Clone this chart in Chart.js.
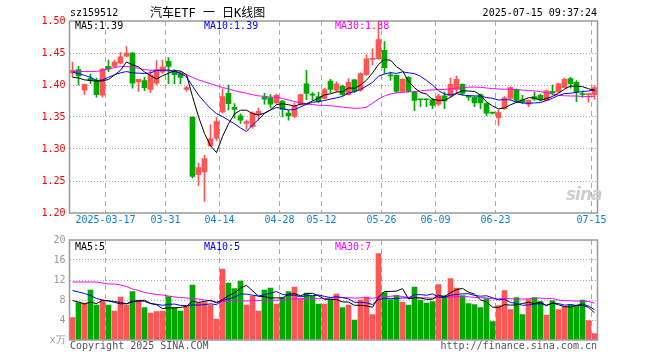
<!DOCTYPE html>
<html>
<head>
<meta charset="utf-8">
<script src="https://cdn.jsdelivr.net/npm/chart.js@4.4.1/dist/chart.umd.min.js"></script>
<style>
body{margin:0;background:#fff;width:660px;height:360px;position:relative;overflow:hidden;font-family:'DejaVu Sans Mono',monospace;}
canvas{position:absolute;left:0}
#k{top:0}
#v{top:230px}
.t{position:absolute;font-size:10px;line-height:12px;white-space:pre;z-index:5}
</style>
</head>
<body>
<div class="t" style="left:70px;top:7px">sz159512</div>
<div class="t" style="left:150px;top:6px;font-size:12px;line-height:14px;font-family:'DejaVu Sans Mono','Noto Sans CJK SC',monospace">汽车ETF 一 日K线图</div>
<div class="t" style="right:63px;top:7px">2025-07-15 09:37:24</div>
<div class="t" style="left:75px;top:20px;color:#000">MA5:1.39</div>
<div class="t" style="left:204px;top:20px;color:#00f">MA10:1.39</div>
<div class="t" style="left:335px;top:20px;color:#f0f">MA30:1.38</div>
<div class="t" style="left:75px;top:241px;color:#000">MA5:5</div>
<div class="t" style="left:204px;top:241px;color:#00f">MA10:5</div>
<div class="t" style="left:335px;top:241px;color:#f0f">MA30:7</div>
<div class="t" style="left:70px;top:340px;color:#555">Copyright 2025 SINA.COM</div>
<div class="t" style="right:63px;top:340px;color:#555">http://finance.sina.com.cn</div>
<div class="t" style="left:566px;top:184px;font:italic bold 17px 'DejaVu Sans',sans-serif;color:#cfcfcf;letter-spacing:-1px">sina</div>
<canvas id="k" width="660" height="232"></canvas>
<canvas id="v" width="660" height="130"></canvas>
<script>
// trading days 2025-03-07 .. 2025-07-15
var dates = ['03-07','03-10','03-11','03-12','03-13','03-14','03-17','03-18','03-19','03-20','03-21','03-24','03-25','03-26','03-27','03-28','03-31',
  '04-01','04-02','04-03','04-07','04-08','04-09','04-10','04-11','04-14','04-15','04-16','04-17','04-18','04-21','04-22','04-23','04-24','04-25','04-28','04-29','04-30',
  '05-06','05-07','05-08','05-09','05-12','05-13','05-14','05-15','05-16','05-19','05-20','05-21','05-22','05-23','05-26','05-27','05-28','05-29','05-30',
  '06-03','06-04','06-05','06-06','06-09','06-10','06-11','06-12','06-13','06-16','06-17','06-18','06-19','06-20','06-23','06-24','06-25','06-26','06-27','06-30',
  '07-01','07-02','07-03','07-04','07-07','07-08','07-09','07-10','07-11','07-14','07-15'];
var tickLabels = {'03-17':'2025-03-17','03-31':'03-31','04-14':'04-14','04-28':'04-28','05-12':'05-12','05-26':'05-26','06-09':'06-09','06-23':'06-23','07-15':'07-15'};

var open = [1.419,1.424,1.392,1.410,1.407,1.384,1.429,1.429,1.434,1.445, 1.450,1.405,1.407,1.393,1.403,1.420,1.437,1.422,1.418,1.393,
  1.350,1.260,1.264,1.305,1.317,1.358,1.387,1.365,1.352,1.340, 1.335,1.354,1.381,1.380,1.372,1.375,1.356,1.351,1.370,1.402,
  1.386,1.382,1.379,1.406,1.392,1.398,1.385,1.408,1.392,1.416, 1.440,1.441,1.454,1.416,1.415,1.390,1.412,1.389,1.378,1.378,
  1.377,1.370,1.383,1.383,1.393,1.401,1.382,1.381,1.385,1.371, 1.357,1.349,1.363,1.379,1.393,1.377,1.370,1.382,1.384,1.376,
  1.390,1.389,1.396,1.410,1.404,1.386,1.385,1.385];
var high = [1.436,1.429,1.401,1.417,1.411,1.426,1.439,1.439,1.451,1.460, 1.451,1.409,1.412,1.422,1.438,1.439,1.443,1.424,1.421,1.398,
  1.350,1.278,1.290,1.338,1.349,1.394,1.400,1.371,1.355,1.345, 1.358,1.364,1.387,1.385,1.386,1.376,1.361,1.372,1.386,1.423,
  1.388,1.389,1.395,1.409,1.405,1.400,1.410,1.409,1.419,1.447, 1.457,1.499,1.468,1.420,1.416,1.410,1.413,1.390,1.378,1.378,
  1.379,1.386,1.389,1.411,1.414,1.402,1.384,1.382,1.386,1.372, 1.357,1.361,1.382,1.397,1.394,1.384,1.377,1.389,1.386,1.392,
  1.400,1.403,1.411,1.412,1.407,1.391,1.386,1.399];
var low = [1.413,1.400,1.385,1.402,1.381,1.381,1.421,1.428,1.433,1.444, 1.395,1.390,1.391,1.388,1.400,1.418,1.402,1.402,1.402,1.390,
  1.255,1.243,1.218,1.304,1.313,1.356,1.361,1.348,1.340,1.331, 1.333,1.345,1.370,1.364,1.370,1.350,1.345,1.349,1.368,1.377,
  1.376,1.372,1.378,1.388,1.389,1.383,1.384,1.388,1.390,1.415, 1.431,1.440,1.418,1.407,1.388,1.388,1.389,1.360,1.366,1.366,
  1.363,1.368,1.363,1.382,1.388,1.384,1.376,1.366,1.363,1.352, 1.355,1.337,1.362,1.377,1.373,1.371,1.366,1.376,1.375,1.375,
  1.384,1.388,1.395,1.395,1.374,1.381,1.373,1.378];
var close = [1.423,1.414,1.401,1.407,1.385,1.425,1.425,1.436,1.444,1.450, 1.403,1.409,1.396,1.415,1.424,1.428,1.429,1.416,1.412,1.396,
  1.257,1.271,1.285,1.316,1.343,1.382,1.371,1.362,1.345,1.343, 1.356,1.359,1.378,1.370,1.384,1.362,1.352,1.367,1.385,1.387,
  1.384,1.374,1.393,1.393,1.402,1.385,1.404,1.390,1.418,1.441, 1.441,1.471,1.427,1.414,1.390,1.409,1.390,1.376,1.377,1.377,
  1.368,1.383,1.375,1.401,1.409,1.387,1.381,1.372,1.372,1.356, 1.356,1.357,1.380,1.396,1.376,1.373,1.376,1.378,1.377,1.391,
  1.388,1.402,1.409,1.402,1.389,1.385,1.386,1.396];
// volume, 万手
var volume = [4.5,7.5,7.4,10.0,7.0,7.8,7.0,5.8,8.6,7.0, 9.7,8.0,6.5,5.4,5.7,5.8,8.7,6.5,5.8,6.8,
  11.0,7.5,7.5,7.0,4.2,14.2,11.4,10.3,11.8,7.0, 8.8,5.8,10.0,10.4,7.2,8.5,9.7,10.6,8.2,9.4,
  8.8,7.2,7.2,8.0,9.2,6.5,7.0,4.0,8.0,8.6, 5.1,17.3,9.5,8.1,8.9,7.6,7.0,10.6,8.0,7.4,
  7.7,11.1,8.9,12.3,10.4,8.9,7.3,7.1,6.5,8.3, 3.7,6.9,9.9,6.1,8.5,5.1,8.1,8.5,7.7,5.0,
  7.9,6.1,6.7,7.1,6.9,8.0,3.9,1.3];

// moving-average values before the window fills
var ma5Head = [1.412,1.411,1.408,1.407];
var ma10Head = [1.420,1.418,1.415,1.412,1.407,1.408,1.412,1.416,1.419];
var ma30Head = [1.421,1.421,1.421,1.421,1.421,1.423,1.425,1.427,1.429,1.429,1.428,1.426,1.424,1.423,1.423,
  1.423,1.422,1.421,1.419,1.416,1.412,1.408,1.405,1.402,1.399,1.396,1.394,1.391,1.389];
var vma5Head = [7.9,7.6,7.2,7.6];
var vma10Head = [9.9,9.6,9.3,8.9,8.3,8.0,7.8,7.7,7.5];
var vma30Head = [11.6,11.6,11.6,11.6,11.6,11.4,11.2,11.2,11.0,10.7,10.2,9.9,9.5,9.3,9.1,
  9.0,8.8,8.6,8.5,8.4,8.3,8.2,8.0,7.8,7.6,7.7,7.8,7.9,7.9];

function ma(src, n, head) {
  return src.map(function(v, i) {
    if (i < n - 1) return head[i];
    var s = 0;
    for (var j = i - n + 1; j <= i; j++) s += src[j];
    return s / n;
  });
}

var RED = '#ff5555', GREEN = '#00a800';
var colors = close.map(function(c, i) { return c >= open[i] ? RED : GREEN; });
var markIdx = dates.map(function(d, i) { return tickLabels[d] ? i : -1; }).filter(function(i) { return i >= 0; });

var font = {family: 'DejaVu Sans Mono', size: 10};

var frame = {
  id: 'frame',
  afterDraw: function(ch) {
    var a = ch.chartArea, c = ch.ctx;
    c.save();
    c.strokeStyle = '#999';
    c.lineWidth = 1.5;
    c.strokeRect(a.left, a.top, a.right - a.left, a.bottom - a.top);
    c.restore();
  }
};

function xScale(showLabels) {
  return {
    type: 'category',
    offset: true,
    grid: {
      offset: true,
      drawTicks: false,
      lineWidth: 1,
      color: function(c) { return markIdx.indexOf(c.index) >= 0 ? '#aaa' : 'rgba(0,0,0,0)'; },
      borderDash: [5, 4]
    },
    border: {display: false, dash: [5, 4]},
    ticks: {
      display: showLabels,
      autoSkip: false,
      maxRotation: 0,
      color: '#0a80d8',
      font: font,
      padding: 1,
      labelOffset: -3,
      callback: function(v, i) { return tickLabels[dates[i]] || ''; }
    },
    afterFit: function(s) { s.height = showLabels ? 19 : 0; }
  };
}

function lineSet(data, color) {
  return {type: 'line', data: data, borderColor: color, borderWidth: 1, pointRadius: 0, tension: 0, order: 0};
}

new Chart(document.getElementById('k'), {
  data: {
    labels: dates,
    datasets: [
      lineSet(ma(close, 5, ma5Head), '#000'),
      lineSet(ma(close, 10, ma10Head), '#00f'),
      lineSet(ma(close, 30, ma30Head), '#f0f'),
      {type: 'bar', data: open.map(function(o, i) { return [Math.min(o, close[i]), Math.max(o, close[i])]; }),
        backgroundColor: colors, barThickness: 5, minBarLength: 1, grouped: false, order: 1},
      {type: 'bar', data: low.map(function(l, i) { return [l, high[i]]; }),
        backgroundColor: colors, barThickness: 1, grouped: false, order: 2}
    ]
  },
  options: {
    responsive: false,
    animation: false,
    events: [],
    layout: {padding: {left: 0, right: 62.5, top: 21, bottom: 0}},
    plugins: {legend: {display: false}, tooltip: {enabled: false}},
    scales: {
      x: xScale(true),
      y: {
        min: 1.2, max: 1.5,
        ticks: {stepSize: 0.05, color: '#f00', font: font, padding: 4,
          callback: function(v) { return v.toFixed(2); }},
        grid: {drawTicks: false, borderDash: [1, 2],
          color: function(c) { return c.tick && c.tick.value > 1.201 && c.tick.value < 1.499 ? '#aaa' : 'rgba(0,0,0,0)'; }},
        border: {display: false, dash: [1, 2]},
        afterFit: function(s) { s.width = 69.5; }
      }
    }
  },
  plugins: [frame]
});

new Chart(document.getElementById('v'), {
  data: {
    labels: dates,
    datasets: [
      lineSet(ma(volume, 5, vma5Head), '#000'),
      lineSet(ma(volume, 10, vma10Head), '#00f'),
      lineSet(ma(volume, 30, vma30Head), '#f0f'),
      {type: 'bar', data: volume, backgroundColor: colors, barThickness: 5, order: 1}
    ]
  },
  options: {
    responsive: false,
    animation: false,
    events: [],
    layout: {padding: {left: 0, right: 62.5, top: 10, bottom: 20}},
    plugins: {legend: {display: false}, tooltip: {enabled: false}},
    scales: {
      x: xScale(false),
      y: {
        min: 0, max: 20,
        ticks: {stepSize: 4, color: '#999', font: font, padding: 4,
          callback: function(v) { return v === 0 ? 'x万' : v; }},
        grid: {drawTicks: false, borderDash: [1, 2],
          color: function(c) { return c.tick && c.tick.value > 0 && c.tick.value < 20 ? '#aaa' : 'rgba(0,0,0,0)'; }},
        border: {display: false, dash: [1, 2]},
        afterFit: function(s) { s.width = 69.5; }
      }
    }
  },
  plugins: [frame]
});
</script>
</body>
</html>
